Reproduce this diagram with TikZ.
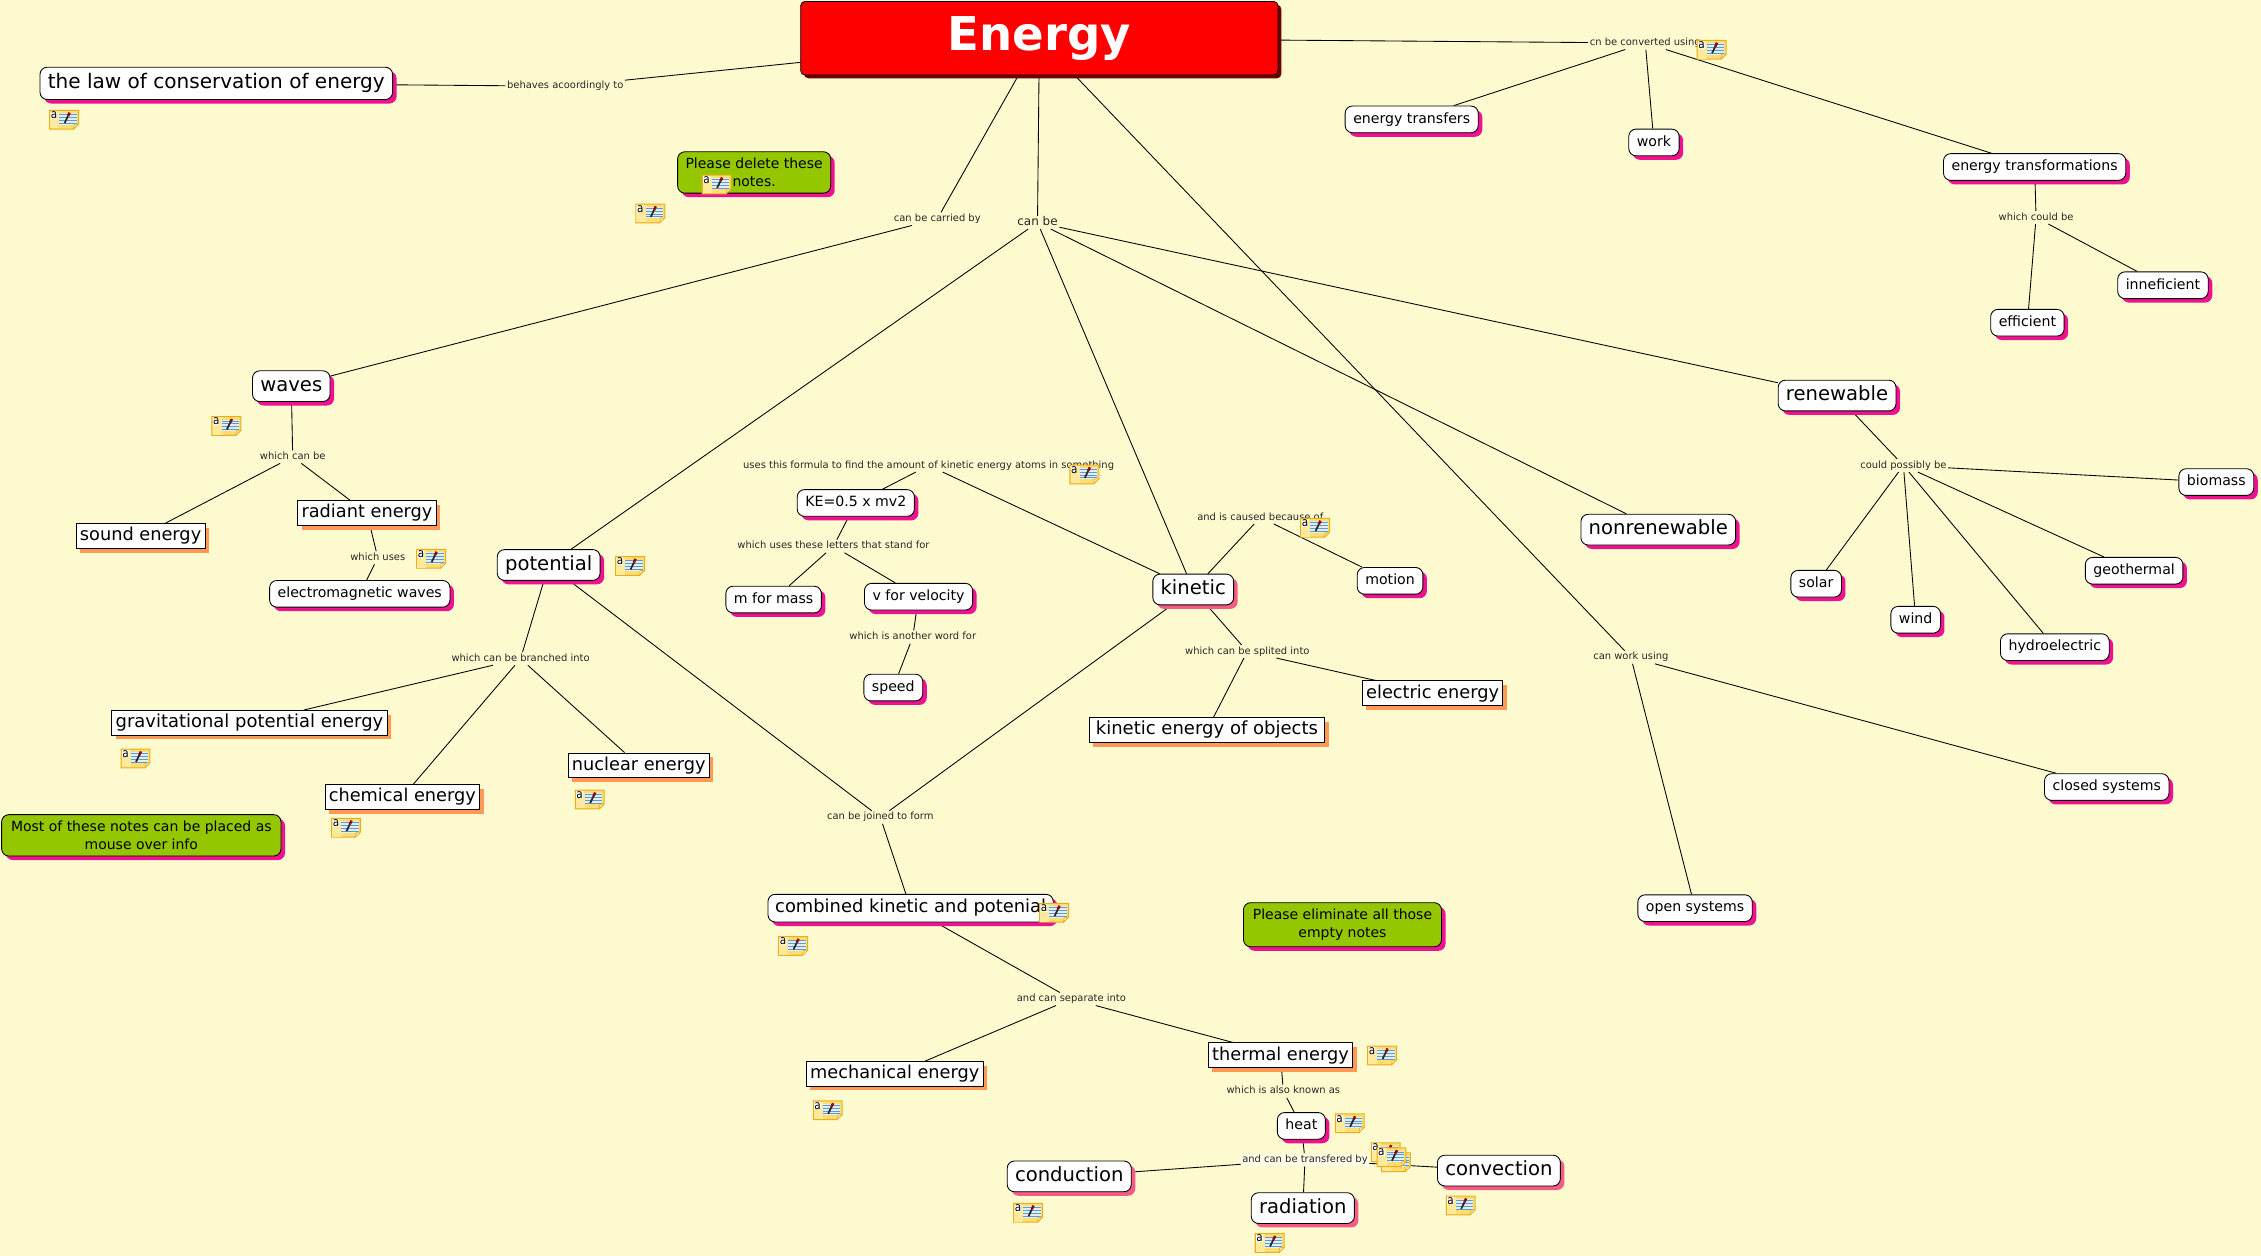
\documentclass[tikz,border=0pt]{standalone}
\usepackage{xcolor}
\usepackage{fontspec}
\setmainfont{DejaVu Sans}
\usetikzlibrary{shadows,backgrounds}

\definecolor{bgcream}{HTML}{FEFAD0}
\definecolor{pinkshadow}{HTML}{EE1290}
\definecolor{roseshadow}{HTML}{F45B85}
\definecolor{orangeshadow}{HTML}{FF9955}
\definecolor{notegreen}{HTML}{94C700}
\definecolor{darkred}{HTML}{6B0000}
\definecolor{noteyellow}{HTML}{FFDD70}
\definecolor{notelight}{HTML}{FFE99A}
\definecolor{noteborder}{HTML}{E8AE1E}
\definecolor{noteblue}{HTML}{5C9BD0}
\definecolor{notepale}{HTML}{E4EEF0}

\tikzset{
    x=1pt, y=-1pt,
    link/.style={draw=black, line width=.6pt},
    linkname/.style={font=\fontsize{6.9}{8}\selectfont, text=black!85, inner sep=1pt, text height=5.2pt, text depth=1.5pt},
    roundbox/.style={draw=black, fill=white, line width=.6pt, rounded corners=5pt, drop shadow={shadow xshift=2.8pt, shadow yshift=-2.8pt, fill=#1, opacity=1}},
    roundbox/.default=pinkshadow,
    bigbox/.style={roundbox=#1, font=\fontsize{13.6}{16}\selectfont, inner xsep=5.4pt, inner ysep=4pt, text height=10.3pt, text depth=3pt},
    bigbox/.default=pinkshadow,
    midbox/.style={roundbox, font=\fontsize{12.4}{15}\selectfont, inner xsep=5pt, inner ysep=3.5pt, text height=9.4pt, text depth=2.8pt},
    smallbox/.style={roundbox, font=\fontsize{9.8}{12}\selectfont, inner xsep=5.6pt, inner ysep=4.5pt, text height=7.4pt, text depth=2.1pt},
    squarebox/.style={draw=black, fill=white, line width=.6pt, font=\fontsize{12.3}{15}\selectfont, inner xsep=2.6pt, inner ysep=2.6pt, text height=9.3pt, text depth=2.7pt, drop shadow={shadow xshift=2.8pt, shadow yshift=-2.8pt, fill=orangeshadow, opacity=1}},
    notebox/.style={roundbox, fill=notegreen, font=\fontsize{9.7}{12.2}\selectfont, align=center, inner xsep=6.5pt, inner ysep=4.5pt},
    noteicon/.pic={
        \draw[fill=noteyellow, draw=noteborder, line width=.7pt] (-10,-6.5) -- (10,-6.5) -- (10,3) -- (6.5,6.5) -- (-10,6.5) -- cycle;
        \fill[notelight] (-9.6,-6.1) rectangle (-3.3,6.1);
        \fill[notepale] (-3.3,-4.4) rectangle (8.8,3.4);
        \foreach \yy in {-3.6,-1.6,.4,2.4}
            \draw[noteblue, line width=.55pt] (-3.3,\yy) -- (8.8,\yy);
        \fill[notelight, draw=noteborder, line width=.4pt] (10,3) -- (7,3.2) -- (6.5,6.5) -- cycle;
        \draw[black!85, line width=1.2pt] (.3,2.4) -- (2.6,-2.4);
        \draw[red!60!black, line width=1.7pt] (2.6,-2.4) -- (3.8,-4.9);
        \node[fill=white, inner sep=0pt, xscale=.85, font=\fontsize{8.5}{8.5}\selectfont] (-a) at (-7,-3.2) {a};
    }
}

\begin{document}
\begin{tikzpicture}
    \useasboundingbox (0,0) rectangle (1568,871);

    \begin{scope}[yshift=-.8pt]
    % top of the map
    \node (Energy) at (720.8,25.7) [draw=black, fill=red, line width=.6pt, rounded corners=3pt, minimum width=331pt, minimum height=51pt, inner sep=0pt, text=white, font=\fontsize{32.3}{36}\selectfont\bfseries, text height=25.2pt, text depth=7.6pt, drop shadow={shadow xshift=2.3pt, shadow yshift=-2.3pt, fill=darkred, opacity=1}] {Energy};
    \node (Law) at (150,57) [roundbox, font=\fontsize{13.9}{16}\selectfont, inner xsep=5.4pt, inner ysep=4.5pt, text height=10.4pt, text depth=3pt] {the law of conservation of energy};
    \node (Behaves) at (392,59) [linkname] {behaves acoordingly to};
    \node (Converted) at (1141,29) [linkname] {cn be converted using};
    \node (Carried) at (650,151) [linkname] {can be carried by};
    \node (CanBe) at (719.5,153.5) [linkname, font=\fontsize{8.3}{9}\selectfont] {can be};
    \node (WorkUsing) at (1131,455) [linkname] {can work using};

    \node (Transfers) at (979,82) [smallbox] {energy transfers};
    \node (Work) at (1147,98) [smallbox] {work};
    \node (Transforms) at (1411,115) [smallbox] {energy transformations};
    \node (CouldBe) at (1412,150) [linkname] {which could be};
    \node (Efficient) at (1406,223) [smallbox] {efficient};
    \node (Inefficient) at (1500,197) [smallbox] {inneficient};

    % renewable side
    \node (Renewable) at (1274,273.5) [bigbox] {renewable};
    \node (Nonrenewable) at (1150,366.5) [bigbox] {nonrenewable};
    \node (Possibly) at (1320,322) [linkname] {could possibly be};
    \node (Biomass) at (1537,333.5) [smallbox] {biomass};
    \node (Geothermal) at (1480,395) [smallbox] {geothermal};
    \node (Hydro) at (1425,448) [smallbox] {hydroelectric};
    \node (Wind) at (1328.5,429) [smallbox] {wind};
    \node (Solar) at (1259.5,404) [smallbox] {solar};
    \node (Closed) at (1461,545) [smallbox] {closed systems};
    \node (Open) at (1175.5,629) [smallbox] {open systems};

    % waves side
    \node (Waves) at (202,267) [bigbox] {waves};
    \node (WhichCanBe) at (203,316) [linkname] {which can be};
    \node (Sound) at (97.5,371) [squarebox] {sound energy};
    \node (Radiant) at (254.5,355) [squarebox] {radiant energy};
    \node (Uses) at (262,386) [linkname] {which uses};
    \node (Electro) at (249.5,411) [smallbox] {electromagnetic waves};

    % potential
    \node (Potential) at (380.5,391) [bigbox] {potential};
    \node (Branched) at (361,456) [linkname] {which can be branched into};
    \node (Gravity) at (173,500.5) [squarebox, font=\fontsize{12.45}{15}\selectfont] {gravitational potential energy};
    \node (Chemical) at (279,552) [squarebox] {chemical energy};
    \node (Nuclear) at (443,530) [squarebox] {nuclear energy};

    % kinetic
    \node (Kinetic) at (827.5,408) [bigbox=roseshadow] {kinetic};
    \node (Formula) at (644,322) [linkname] {uses this formula to find the amount of kinetic energy atoms in something};
    \node (KE) at (593.5,348) [smallbox] {KE=0.5 x mv2};
    \node (Letters) at (578,378) [linkname] {which uses these letters that stand for};
    \node (Mass) at (536.5,415) [smallbox] {m for mass};
    \node (Velocity) at (637,413) [smallbox] {v for velocity};
    \node (Another) at (633,441) [linkname] {which is another word for};
    \node (Speed) at (619.5,476) [smallbox] {speed};
    \node (Caused) at (874,358) [linkname] {and is caused because of};
    \node (Motion) at (964,402) [smallbox] {motion};
    \node (Splited) at (865,451) [linkname] {which can be splited into};
    \node (Electric) at (993.5,480) [squarebox] {electric energy};
    \node (Objects) at (837,505.5) [squarebox, font=\fontsize{12.5}{15}\selectfont, minimum width=163pt] {kinetic energy of objects};

    % combined
    \node (Joined) at (610.5,566) [linkname] {can be joined to form};
    \node (Combined) at (631.5,629) [midbox] {combined kinetic and potenial};
    \node (Separate) at (743,692) [linkname] {and can separate into};
    \node (Mechanical) at (620.5,744) [squarebox] {mechanical energy};
    \node (Thermal) at (888,731) [squarebox] {thermal energy};
    \node (Known) at (890,756) [linkname] {which is also known as};
    \node (Heat) at (902.5,780) [smallbox] {heat};
    \node (Transfered) at (905,803.5) [linkname, fill=white!50!bgcream] {and can be transfered by};
    \node (Conduction) at (741.5,815) [bigbox=roseshadow] {conduction};
    \node (Radiation) at (903.5,837) [bigbox=roseshadow] {radiation};
    \node (Convection) at (1039.5,811) [bigbox=roseshadow] {convection};

    % green notes
    \node (NoteDelete) at (523,118.8) [notebox, inner xsep=5.5pt] {Please delete these\\notes.};
    \node (NotePlaced) at (98,578.5) [notebox] {Most of these notes can be placed as\\mouse over info};
    \node (NoteEmpty) at (931,640.5) [notebox] {Please eliminate all those\\empty notes};
    \end{scope}

    \begin{pgfonlayer}{background}
        \fill[bgcream] (0,0) rectangle (1568,871);
        \draw[link] (Law) -- (Behaves);
        \draw[link] (Behaves) -- (Energy);
        \draw[link] (Energy) -- (Converted);
        \draw[link] (Converted) -- (Transfers);
        \draw[link] (Converted) -- (Work);
        \draw[link] (Converted) -- (Transforms);
        \draw[link] (Transforms) -- (CouldBe);
        \draw[link] (CouldBe) -- (Efficient);
        \draw[link] (CouldBe) -- (Inefficient);
        \draw[link] (Energy) -- (Carried);
        \draw[link] (Carried) -- (Waves);
        \draw[link] (Energy) -- (CanBe);
        \draw[link] (CanBe) -- (Potential);
        \draw[link] (CanBe) -- (Kinetic);
        \draw[link] (CanBe) -- (Nonrenewable);
        \draw[link] (CanBe) -- (Renewable);
        \draw[link] (Energy) -- (WorkUsing);
        \draw[link] (WorkUsing) -- (Closed);
        \draw[link] (WorkUsing) -- (Open);
        \draw[link] (Renewable) -- (Possibly);
        \draw[link] (Possibly) -- (Biomass);
        \draw[link] (Possibly) -- (Geothermal);
        \draw[link] (Possibly) -- (Hydro);
        \draw[link] (Possibly) -- (Wind);
        \draw[link] (Possibly) -- (Solar);
        \draw[link] (Waves) -- (WhichCanBe);
        \draw[link] (WhichCanBe) -- (Sound);
        \draw[link] (WhichCanBe) -- (Radiant);
        \draw[link] (Radiant) -- (Uses);
        \draw[link] (Uses) -- (Electro);
        \draw[link] (Potential) -- (Branched);
        \draw[link] (Branched) -- (Gravity);
        \draw[link] (Branched) -- (Chemical);
        \draw[link] (Branched) -- (Nuclear);
        \draw[link] (Potential) -- (Joined);
        \draw[link] (Kinetic) -- (Joined);
        \draw[link] (Joined) -- (Combined);
        \draw[link] (Kinetic) -- (Formula);
        \draw[link] (Formula) -- (KE);
        \draw[link] (KE) -- (Letters);
        \draw[link] (Letters) -- (Mass);
        \draw[link] (Letters) -- (Velocity);
        \draw[link] (Velocity) -- (Another);
        \draw[link] (Another) -- (Speed);
        \draw[link] (Kinetic) -- (Caused);
        \draw[link] (Caused) -- (Motion);
        \draw[link] (Kinetic) -- (Splited);
        \draw[link] (Splited) -- (Electric);
        \draw[link] (Splited) -- (Objects);
        \draw[link] (Combined) -- (Separate);
        \draw[link] (Separate) -- (Mechanical);
        \draw[link] (Separate) -- (Thermal);
        \draw[link] (Thermal) -- (Known);
        \draw[link] (Known) -- (Heat);
        \draw[link] (Heat) -- (Transfered);
        \draw[link] (Transfered) -- (Conduction);
        \draw[link] (Transfered) -- (Radiation);
        \draw[link] (Transfered) -- (Convection);
    \end{pgfonlayer}

    % note icons
    \pic (IconLaw) at (44.5,83) {noteicon};
    \pic (IconFree) at (451,148) {noteicon};
    \pic (IconDelete) at (497,128) {noteicon};
    \pic (IconConverted) at (1187,34.5) {noteicon};
    \pic (IconWaves) at (157,295.5) {noteicon};
    \pic (IconUses) at (299,387.5) {noteicon};
    \pic (IconPotential) at (437,392.5) {noteicon};
    \pic (IconFormula) at (752,329) {noteicon};
    \pic (IconCaused) at (912,366) {noteicon};
    \pic (IconGravity) at (94,526) {noteicon};
    \pic (IconChemical) at (240,574) {noteicon};
    \pic (IconNuclear) at (409,554.5) {noteicon};
    \pic (IconCombined) at (731,633) {noteicon};
    \pic (IconCombinedB) at (550,656) {noteicon};
    \pic (IconThermal) at (958.5,732) {noteicon};
    \pic (IconMechanical) at (574,770) {noteicon};
    \pic (IconHeat) at (936,779) {noteicon};
    \pic (IconConduction) at (713,841) {noteicon};
    \pic (IconRadiation) at (880.5,862) {noteicon};
    \pic (IconConvection) at (1013,836) {noteicon};
    \pic (IconTransA) at (961,799) {noteicon};
    \pic (IconTransC) at (968,806) {noteicon};
    \pic (IconTransB) at (965,802.5) {noteicon};
\end{tikzpicture}
\end{document}
